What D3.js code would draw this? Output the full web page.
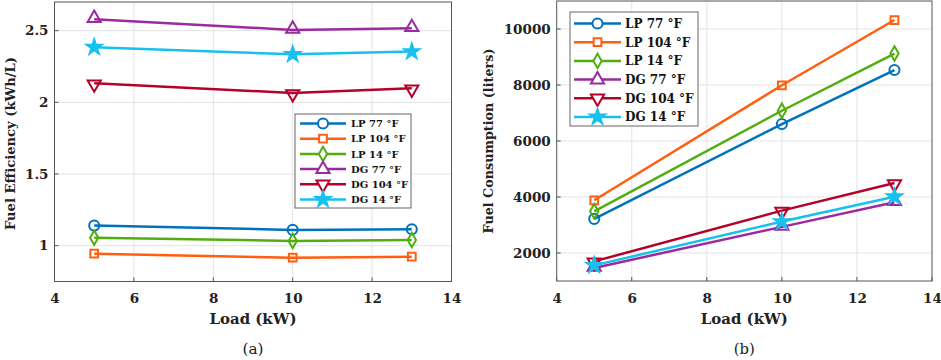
<!DOCTYPE html>
<html><head><meta charset="utf-8">
<script src="https://cdn.jsdelivr.net/npm/d3@7"></script>
<style>body{margin:0;background:#fff}svg{display:block}
svg text{font-family:"DejaVu Serif","Liberation Serif",serif}</style>
</head><body>
<svg id="c" width="941" height="360"></svg>
<script>
const loads = [5, 10, 13];
const seriesNames = ["LP 77 °F", "LP 104 °F", "LP 14 °F", "DG 77 °F", "DG 104 °F", "DG 14 °F"];
const seriesColors = ["#0072BD", "#FF5F0F", "#52AE10", "#9B2AA0", "#B5002C", "#18C0EE"];
const seriesMarkers = ["circle", "square", "diamond", "triUp", "triDown", "star"];
// (a) Fuel efficiency (kWh/L)
const effLP77 = [1.14, 1.11, 1.114];
const effLP104 = [0.944, 0.916, 0.923];
const effLP14 = [1.056, 1.033, 1.04];
const effDG77 = [2.58, 2.505, 2.517];
const effDG104 = [2.133, 2.065, 2.098];
const effDG14 = [2.384, 2.335, 2.354];
// (b) Fuel consumption (liters)
const consLP77 = [3218, 6604, 8533];
const consLP104 = [3883, 7990, 10320];
const consLP14 = [3490, 7081, 9124];
const consDG77 = [1467, 2933, 3812];
const consDG104 = [1701, 3513, 4498];
const consDG14 = [1559, 3122, 4010];
const xTicks = [4, 6, 8, 10, 12, 14];
const effTicks = [1, 1.5, 2, 2.5];
const consTicks = [2000, 4000, 6000, 8000, 10000];

const svg = d3.select("#c");

// pick a font size so that a text spans a given width
function fitSize(sel, target) {
  const fs = 20;
  sel.attr("font-size", fs);
  const w = sel.node().getComputedTextLength();
  sel.attr("font-size", (fs * target / w).toFixed(2));
}

function markerPath(type, size) {
  const map = {circle: d3.symbolCircle, square: d3.symbolSquare, diamond: d3.symbolDiamond,
    triUp: d3.symbolTriangle, triDown: d3.symbolTriangle, star: d3.symbolStar};
  return d3.symbol().type(map[type]).size(size)();
}
const markerSizes = {circle: 80, square: 60, diamond: 60, triUp: 75, triDown: 75, star: 70};

function drawPanel(o) {
  const g = svg.append("g");
  const x = d3.scaleLinear().domain([4, 14]).range([o.x0, o.x1]);
  const y = d3.scaleLinear().domain(o.yDomain).range([o.y1, o.y0]);
  // grid
  g.append("g").selectAll("line").data(xTicks.slice(1, -1)).join("line")
    .attr("x1", d => x(d)).attr("x2", d => x(d)).attr("y1", o.y0).attr("y2", o.y1)
    .attr("stroke", "#e3e3e3").attr("stroke-width", 1);
  g.append("g").selectAll("line").data(o.yTicks).join("line")
    .attr("x1", o.x0).attr("x2", o.x1).attr("y1", d => y(d)).attr("y2", d => y(d))
    .attr("stroke", "#e3e3e3").attr("stroke-width", 1);
  // axes
  const xa = g.append("g").attr("transform", `translate(0,${o.y1})`)
    .call(d3.axisBottom(x).tickValues(xTicks).tickSize(0).tickPadding(0).tickFormat(d3.format("d")));
  xa.selectAll("text").attr("dy", null).attr("y", 21.5);
  const ya = g.append("g").attr("transform", `translate(${o.x0},0)`)
    .call(d3.axisLeft(y).tickValues(o.yTicks).tickSize(0).tickPadding(6).tickFormat(o.fmt));
  [xa, ya].forEach(a => {
    a.select(".domain").remove();
    a.attr("font-family", null);
    a.selectAll("text").attr("font-weight", "bold")
      .attr("font-size", 13.5).attr("fill", "#222");
  });
  // small tick marks inside
  g.append("g").selectAll("line").data(xTicks).join("line")
    .attr("x1", d => x(d)).attr("x2", d => x(d)).attr("y1", o.y1).attr("y2", o.y1 - 4)
    .attr("stroke", "#555");
  g.append("g").selectAll("line").data(o.yTicks).join("line")
    .attr("x1", o.x0).attr("x2", o.x0 + 4).attr("y1", d => y(d)).attr("y2", d => y(d))
    .attr("stroke", "#555");
  g.append("rect").attr("x", o.x0).attr("y", o.y0).attr("width", o.x1 - o.x0).attr("height", o.y1 - o.y0)
    .attr("fill", "none").attr("stroke", "#555").attr("stroke-width", 1);
  // series
  const line = d3.line().x((d, i) => x(loads[i])).y(d => y(d));
  o.data.forEach((vals, si) => {
    const col = seriesColors[si], mk = seriesMarkers[si];
    g.append("path").attr("d", line(vals)).attr("fill", "none").attr("stroke", col).attr("stroke-width", 2.5);
    g.append("g").selectAll("path").data(vals).join("path")
      .attr("d", markerPath(mk, markerSizes[mk]))
      .attr("transform", (d, i) => `translate(${x(loads[i])},${y(d) + (mk === "triUp" ? -1 : mk === "triDown" ? 1 : 0)})${mk === "triDown" ? " rotate(180)" : ""}`)
      .attr("fill", mk === "star" ? col : "none").attr("stroke", col).attr("stroke-width", 2);
  });
  // legend
  const L = o.legend;
  g.append("rect").attr("x", L.x).attr("y", L.y).attr("width", L.w).attr("height", L.h)
    .attr("fill", "#fff").attr("stroke", "#666").attr("stroke-width", 1);
  seriesNames.forEach((name, si) => {
    const cy = L.y + L.first + si * L.step, col = seriesColors[si], mk = seriesMarkers[si];
    g.append("line").attr("x1", L.lx0).attr("x2", L.lx1).attr("y1", cy).attr("y2", cy)
      .attr("stroke", col).attr("stroke-width", 2.5);
    g.append("path").attr("d", markerPath(mk, markerSizes[mk]))
      .attr("transform", `translate(${(L.lx0 + L.lx1) / 2},${cy})${mk === "triDown" ? " rotate(180)" : ""}`)
      .attr("fill", mk === "star" ? col : "#fff").attr("stroke", col).attr("stroke-width", 2);
    g.append("text").attr("x", L.tx).attr("y", cy).attr("dy", "0.36em").text(name)
      .attr("font-weight", "bold").attr("font-size", L.fs).attr("fill", "#111");
  });
  // labels
  const xl = g.append("text").attr("x", (o.x0 + o.x1) / 2).attr("y", 324).attr("text-anchor", "middle")
    .text("Load (kW)").attr("font-weight", "bold").attr("fill", "#222");
  fitSize(xl, 87);
  const yl = g.append("text").attr("transform", `translate(${o.ylabX},${o.ylabY}) rotate(-90)`)
    .attr("text-anchor", "middle").text(o.ylabel)
    .attr("font-weight", "bold").attr("fill", "#222");
  fitSize(yl, o.ylabW);
  const tg = g.append("text").attr("x", (o.x0 + o.x1) / 2).attr("y", 354).attr("text-anchor", "middle")
    .text(o.tag).attr("fill", "#222");
  fitSize(tg, 21);
}

drawPanel({
  x0: 54.5, x1: 451.5, y0: 2, y1: 281.5, yDomain: [0.75, 2.7], yTicks: effTicks,
  fmt: d => d3.format("")(d),
  data: [effLP77, effLP104, effLP14, effDG77, effDG104, effDG14],
  legend: {x: 295, y: 114, w: 116, h: 94, first: 9.5, step: 15.2, lx0: 300, lx1: 346, tx: 351, fs: 10},
  ylabel: "Fuel Efficiency (kWh/L)", ylabX: 15, ylabY: 143.5, ylabW: 173, tag: "(a)"
});
drawPanel({
  x0: 556.7, x1: 932, y0: 1, y1: 281, yDomain: [1000, 11000], yTicks: consTicks,
  fmt: d3.format("d"),
  data: [consLP77, consLP104, consLP14, consDG77, consDG104, consDG14],
  legend: {x: 570, y: 12, w: 128, h: 114, first: 11.5, step: 18.7, lx0: 574, lx1: 621, tx: 625, fs: 12},
  ylabel: "Fuel Consumption (liters)", ylabX: 493, ylabY: 141, ylabW: 185, tag: "(b)"
});
</script>
</body></html>
